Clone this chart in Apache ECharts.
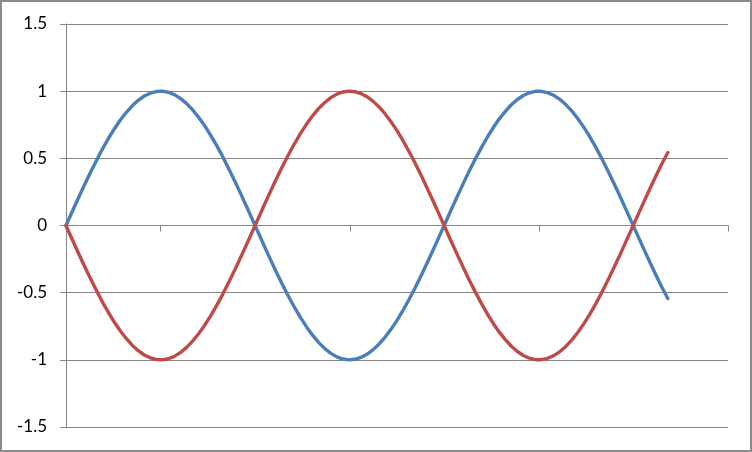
<!DOCTYPE html>
<html>
<head>
<meta charset="utf-8">
<script src="https://cdn.jsdelivr.net/npm/echarts@6/dist/echarts.min.js"></script>
<style>
html,body{margin:0;padding:0;background:#fff;}
#main{width:748px;height:448px;border:2px solid #8c8c8c;}
</style>
</head>
<body>
<div id="main"></div>
<script>
// x positions of the points
var xValues = [0,0.1,0.2,0.3,0.4,0.5,0.6,0.7,0.8,0.9,1,1.1,1.2,1.3,1.4,1.5,1.6,1.7,1.8,1.9,
	2,2.1,2.2,2.3,2.4,2.5,2.6,2.7,2.8,2.9,3,3.1,3.2,3.3,3.4,3.5,3.6,3.7,3.8,3.9,
	4,4.1,4.2,4.3,4.4,4.5,4.6,4.7,4.8,4.9,5,5.1,5.2,5.3,5.4,5.5,5.6,5.7,5.8,5.9,
	6,6.1,6.2,6.3,6.4,6.5,6.6,6.7,6.8,6.9,7,7.1,7.2,7.3,7.4,7.5,7.6,7.7,7.8,7.9,
	8,8.1,8.2,8.3,8.4,8.5,8.6,8.7,8.8,8.9,9,9.1,9.2,9.3,9.4,9.5,9.6,9.7,9.8,9.9,10];
// blue curve
var blueValues = [0,0.100,0.199,0.296,0.389,0.479,0.565,0.644,0.717,0.783,
	0.841,0.891,0.932,0.964,0.985,0.997,1.000,0.992,0.974,0.946,
	0.909,0.863,0.808,0.746,0.675,0.598,0.516,0.427,0.335,0.239,
	0.141,0.042,-0.058,-0.158,-0.256,-0.351,-0.443,-0.530,-0.612,-0.688,
	-0.757,-0.818,-0.872,-0.916,-0.952,-0.978,-0.994,-1.000,-0.996,-0.982,
	-0.959,-0.926,-0.883,-0.832,-0.773,-0.706,-0.631,-0.551,-0.465,-0.374,
	-0.279,-0.182,-0.083,0.017,0.117,0.215,0.312,0.405,0.494,0.578,
	0.657,0.729,0.794,0.850,0.899,0.938,0.968,0.988,0.999,0.999,
	0.989,0.970,0.941,0.902,0.855,0.798,0.734,0.663,0.585,0.501,
	0.412,0.319,0.223,0.124,0.025,-0.075,-0.174,-0.272,-0.366,-0.458,-0.544];
// red curve
var redValues = [0,-0.100,-0.199,-0.296,-0.389,-0.479,-0.565,-0.644,-0.717,-0.783,
	-0.841,-0.891,-0.932,-0.964,-0.985,-0.997,-1.000,-0.992,-0.974,-0.946,
	-0.909,-0.863,-0.808,-0.746,-0.675,-0.598,-0.516,-0.427,-0.335,-0.239,
	-0.141,-0.042,0.058,0.158,0.256,0.351,0.443,0.530,0.612,0.688,
	0.757,0.818,0.872,0.916,0.952,0.978,0.994,1.000,0.996,0.982,
	0.959,0.926,0.883,0.832,0.773,0.706,0.631,0.551,0.465,0.374,
	0.279,0.182,0.083,-0.017,-0.117,-0.215,-0.312,-0.405,-0.494,-0.578,
	-0.657,-0.729,-0.794,-0.850,-0.899,-0.938,-0.968,-0.988,-0.999,-0.999,
	-0.989,-0.970,-0.941,-0.902,-0.855,-0.798,-0.734,-0.663,-0.585,-0.501,
	-0.412,-0.319,-0.223,-0.124,-0.025,0.075,0.174,0.272,0.366,0.458,0.544];
// tick marks on the horizontal axis
var xTicks = [1.57,4.72,7.86,11];

function pairs(ys){
	var out = [];
	for (var i = 0; i < xValues.length; i++) {
		out.push([xValues[i], ys[i]]);
	}
	return out;
}

var myChart = echarts.init(document.getElementById('main'));
var option = {
	animation: false,
	grid: {left: 64, right: 22, top: 22, bottom: 23},
	xAxis: {
		type: 'value',
		min: 0,
		max: 11,
		splitLine: {show: false},
		axisLine: {onZero: true, lineStyle: {color: '#868686', width: 1}},
		axisTick: {show: true, inside: false, length: 6, customValues: xTicks, lineStyle: {color: '#868686'}},
		axisLabel: {show: false}
	},
	yAxis: {
		type: 'value',
		min: -1.5,
		max: 1.5,
		interval: 0.5,
		axisLine: {show: true, lineStyle: {color: '#868686', width: 1}},
		axisTick: {show: true, inside: false, length: 6, lineStyle: {color: '#868686'}},
		splitLine: {lineStyle: {color: '#868686', width: 1}},
		axisLabel: {color: '#000', fontFamily: 'Lato', fontSize: 17, margin: 19}
	},
	series: [
		{
			type: 'line',
			data: pairs(blueValues),
			smooth: false,
			showSymbol: false,
			lineStyle: {color: '#4a7ebb', width: 3.4, cap: 'round', join: 'round'},
			itemStyle: {color: '#4a7ebb'}
		},
		{
			type: 'line',
			data: pairs(redValues),
			smooth: false,
			showSymbol: false,
			lineStyle: {color: '#be4b48', width: 3.4, cap: 'round', join: 'round'},
			itemStyle: {color: '#be4b48'}
		}
	]
};
myChart.setOption(option);
</script>
</body>
</html>
